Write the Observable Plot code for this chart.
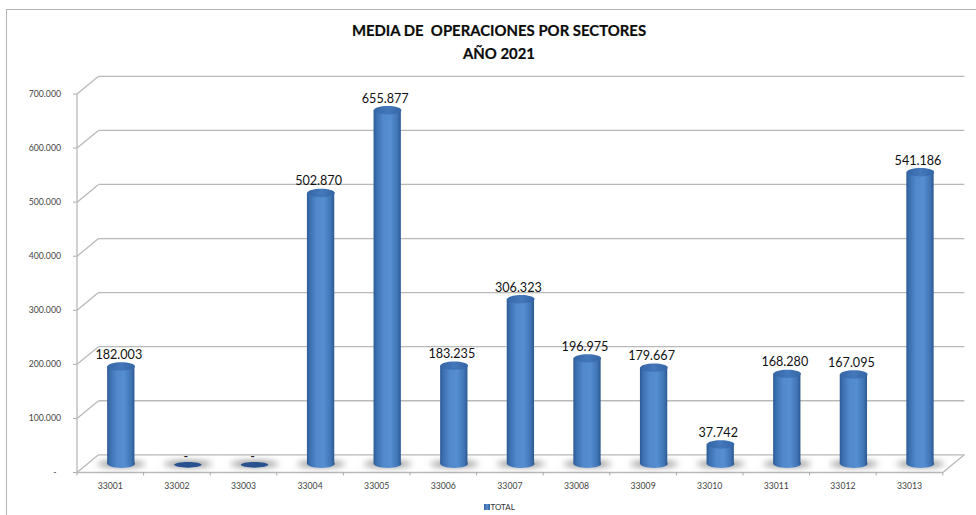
<!DOCTYPE html>
<html>
<head>
<meta charset="utf-8">
<style>
html,body{margin:0;padding:0;background:#fff;overflow:hidden}
#wrap{position:relative;width:976px;height:515px;overflow:hidden}
#frame{position:absolute;left:6px;top:9px;width:980px;height:520px;border:1.5px solid #b4b4b4;box-sizing:border-box}
#chart{position:absolute;left:0;top:0}
#title{position:absolute;left:299px;width:400px;top:19px;text-align:center;font:bold 14.9px/22.6px Lato,sans-serif;color:#0a0a0a;white-space:pre;-webkit-text-stroke:0.2px #0a0a0a}
#legend{position:absolute;left:484px;top:502px;font:8px/10px Lato,sans-serif;color:#333;display:flex;align-items:center;gap:1px}
#legend i{display:block;width:5.5px;height:5.5px;background:linear-gradient(90deg,#2f5f9c,#5c90d0,#2f5f9c)}
</style>
</head>
<body>
<div id="wrap">
<div id="frame"></div>
<div id="chart"></div>
<div id="title">MEDIA DE  OPERACIONES POR SECTORES
AÑO 2021</div>
<div id="legend"><i></i><span>TOTAL</span></div>
</div>
<script src="https://cdn.jsdelivr.net/npm/d3@7"></script>
<script src="https://cdn.jsdelivr.net/npm/@observablehq/plot@0.6"></script>
<script>
const categories = ["33001","33002","33003","33004","33005","33006","33007","33008","33009","33010","33011","33012","33013"];
const totals = [182003,0,0,502870,655877,183235,306323,196975,179667,37742,168280,167095,541186];
const yTicks = [0,100000,200000,300000,400000,500000,600000,700000];

// 3D look, in data units: how far the back wall sits behind the front axis
const depthX = 0.323, depthY = 32700;
const barCenter = 0.665, barHalf = 0.205, barLift = 16000;

const rows = categories.map((c,i)=>({c,i,v:totals[i]}));
const nf = d3.formatLocale({thousands:".",grouping:[3],decimal:","}).format(",d");

function ellipse(rx,ry){
  const k=0.5523;
  return {draw(c){
    c.moveTo(-rx,0);
    c.bezierCurveTo(-rx,-k*ry,-k*rx,-ry,0,-ry);
    c.bezierCurveTo(k*rx,-ry,rx,-k*ry,rx,0);
    c.bezierCurveTo(rx,k*ry,k*rx,ry,0,ry);
    c.bezierCurveTo(-k*rx,ry,-rx,k*ry,-rx,0);
    c.closePath();
  }};
}
function defs(){
  const d=d3.create("svg:defs");
  const g=d.append("linearGradient").attr("id","barGrad");
  [[0,"#2c5a95"],[0.1,"#3a6eae"],[0.35,"#5288cc"],[0.62,"#568ed2"],[0.88,"#3f74b4"],[1,"#2c5890"]]
    .forEach(([o,c])=>g.append("stop").attr("offset",o).attr("stop-color",c));
  const t=d.append("linearGradient").attr("id","topGrad");
  [[0,"#3566a6"],[0.5,"#4378bb"],[1,"#3566a6"]]
    .forEach(([o,c])=>t.append("stop").attr("offset",o).attr("stop-color",c));
  return d.node();
}
const gridColor="#b9b9b9";
const nonZero=rows.filter(d=>d.v>0);
const zero=rows.filter(d=>d.v===0);

const plot=Plot.plot({
  width:976,height:515,
  marginLeft:76.5,marginRight:33.7,marginTop:93.5,marginBottom:43,
  style:{fontFamily:"Lato, sans-serif",background:"transparent"},
  x:{type:"linear",domain:[0,13]},
  y:{type:"linear",domain:[0,700000]},
  marks:[
    defs,
    // back wall gridlines
    Plot.link(yTicks,{x1:depthX,x2:13+depthX,y1:d=>d+depthY,y2:d=>d+depthY,stroke:gridColor,strokeWidth:1.3}),
    // left wall diagonals
    Plot.link(yTicks,{x1:0,x2:depthX,y1:d=>d,y2:d=>d+depthY,stroke:gridColor,strokeWidth:1.3}),
    // right floor edge, front floor edge, value axis
    Plot.link([0],{x1:13,x2:13+depthX,y1:0,y2:depthY,stroke:gridColor,strokeWidth:1.3}),
    Plot.ruleY([0],{stroke:gridColor,strokeWidth:1.3}),
    Plot.ruleX([0],{y1:0,y2:700000,stroke:gridColor,strokeWidth:1.3}),
    // floor shadows
    Plot.dot(rows,{x:d=>d.i+barCenter,y:barLift*0.62+depthY*0.18,fill:"#777",fillOpacity:0.8,symbol:ellipse(24,3.2),imageFilter:"blur(3px)"}),
    // cylinders
    Plot.dot(nonZero,{x:d=>d.i+barCenter,y:barLift,fill:"url(#barGrad)",symbol:ellipse(13.7,4.2)}),
    Plot.rect(nonZero,{x1:d=>d.i+barCenter-barHalf,x2:d=>d.i+barCenter+barHalf,y1:barLift,y2:d=>d.v+barLift,fill:"url(#barGrad)",dy:1}),
    Plot.dot(nonZero,{x:d=>d.i+barCenter,y:d=>d.v+barLift,fill:"url(#topGrad)",symbol:ellipse(13.7,4.2),dy:1}),
    Plot.dot(zero,{x:d=>d.i+barCenter,y:d=>d.v+barLift,fill:"#27528f",symbol:ellipse(13.7,2.8),dy:1}),
    // value labels
    Plot.text(nonZero,{x:d=>d.i+barCenter,y:d=>d.v+barLift,text:d=>nf(d.v),fontSize:12.6,fill:"#111",dx:-2.5,dy:-10.5}),
    Plot.text(zero,{x:d=>d.i+barCenter,y:d=>d.v+barLift,text:()=>"-",fontSize:12.6,fill:"#111",dx:-2,dy:-7}),
    // axes
    Plot.axisY({ticks:yTicks,tickFormat:v=>v===0?"-\u00a0\u00a0":nf(v),tickSize:3.5,tickPadding:12.5,fontSize:8.7,color:"#444",stroke:"#aaa",label:null,anchor:"left"}),
    Plot.axisX({ticks:d3.range(0,14),tickFormat:()=>"",tickSize:3.5,stroke:"#aaa",label:null,anchor:"bottom"}),
    Plot.axisX({ticks:categories.map((c,i)=>i+.5),tickFormat:v=>categories[Math.floor(v)],tickSize:0,tickPadding:10,fontSize:8.7,color:"#444",label:null,anchor:"bottom"})
  ]
});
document.getElementById("chart").appendChild(plot);
</script>
</body>
</html>
